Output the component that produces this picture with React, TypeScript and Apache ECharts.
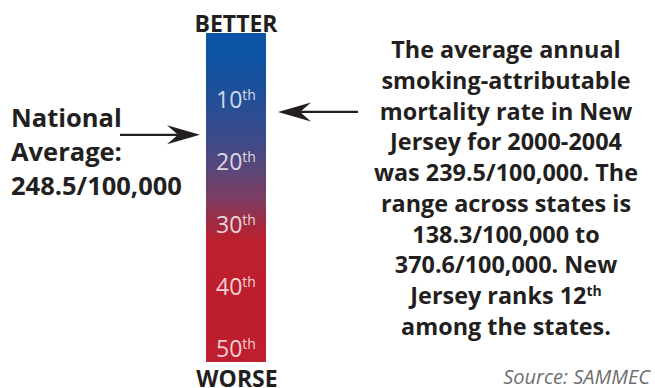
import React, { useEffect, useRef } from "react";
import * as echarts from "echarts";

// ---- data ----
const rankTicks = [10, 20, 30, 40, 50];
const rankBarExtent = [-0.72, 52.33]; // ranking bar span in rank units (top → bottom)
const njRank = 12;
const nationalAvgRank = 15.7; // where the national-average arrow points
const nationalAvg = "248.5/100,000";
const njRate = "239.5/100,000";
const rangeMin = "138.3/100,000";
const rangeMax = "370.6/100,000";
const endLabels = ["BETTER", "WORSE"];
const sourceText = "Source: SAMMEC";

const nationalLines = ["National", "Average:", nationalAvg];
const njLines = [
  "The average annual",
  "smoking-attributable",
  "mortality rate in New",
  "Jersey for 2000-2004",
  `was ${njRate}. The`,
  "range across states is",
  `${rangeMin} to`,
  `${rangeMax}. New`,
  `Jersey ranks ${njRank}{s|th}`,
  "among the states.",
];
// arrows: [side (0 = left of bar, 1 = right of bar), rank]
const arrows = [
  [0, nationalAvgRank],
  [1, njRank],
];

const INK = "#231f20";
const FONT = "'Open Sans', 'Noto Sans', sans-serif";

export default function App() {
  const ref = useRef<HTMLDivElement>(null);
  useEffect(() => {
    if (!ref.current) return;
    const chart = echarts.init(ref.current, null, { renderer: "svg" });
    const gradient = new echarts.graphic.LinearGradient(0, 0, 0, 1, [
      { offset: 0, color: "#0a54a6" },
      { offset: 0.08, color: "#0d53a3" },
      { offset: 0.2, color: "#224f98" },
      { offset: 0.32, color: "#3d4a8a" },
      { offset: 0.415, color: "#5a4679" },
      { offset: 0.506, color: "#7f3d62" },
      { offset: 0.58, color: "#a22b41" },
      { offset: 0.63, color: "#bc1f2d" },
      { offset: 1, color: "#be1e2d" },
    ]);
    chart.setOption({
      animation: false,
      backgroundColor: "#ffffff",
      grid: { left: 206, width: 60, top: 33, height: 329 },
      xAxis: { type: "value", min: 0, max: 1, show: false },
      yAxis: {
        type: "value",
        min: rankBarExtent[0],
        max: rankBarExtent[1],
        inverse: true,
        show: false,
      },
      series: [
        {
          type: "custom",
          clip: false,
          data: [[0, rankBarExtent[0], 1, rankBarExtent[1]]],
          renderItem: (_p: any, api: any) => {
            const p0 = api.coord([api.value(0), api.value(1)]);
            const p1 = api.coord([api.value(2), api.value(3)]);
            return {
              type: "rect",
              shape: { x: p0[0], y: p0[1], width: p1[0] - p0[0], height: p1[1] - p0[1] },
              style: { fill: gradient },
            };
          },
        },
        {
          type: "scatter",
          symbolSize: 0,
          data: rankTicks.map((r) => [0.5, r]),
          label: {
            show: true,
            position: "inside",
            formatter: (p: any) => `{n|${p.value[1]}}{s|th}`,
            rich: {
              n: { fontSize: 23, color: "#ffffff", fontFamily: FONT, lineHeight: 23 },
              s: { fontSize: 14, color: "#ffffff", fontFamily: FONT, lineHeight: 21, verticalAlign: "top" },
            },
          },
        },
        {
          type: "custom",
          clip: false,
          data: arrows,
          renderItem: (_p: any, api: any) => {
            const side = api.value(0);
            const p = api.coord([side, api.value(1)]);
            const y = p[1];
            const dir = side === 0 ? 1 : -1;
            const tipX = p[0] + (side === 0 ? -6 : 12);
            const tailX = tipX - dir * 80;
            return {
              type: "group",
              children: [
                {
                  type: "line",
                  shape: { x1: tailX, y1: y, x2: tipX - dir * 22, y2: y },
                  style: { stroke: INK, lineWidth: 2.2 },
                },
                {
                  type: "polygon",
                  shape: {
                    points: [
                      [tipX, y],
                      [tipX - dir * 33, y - 9.5],
                      [tipX - dir * 22, y],
                      [tipX - dir * 33, y + 9.5],
                    ],
                  },
                  style: { fill: INK },
                },
              ],
            };
          },
        },
      ],
      graphic: [
        {
          type: "text",
          x: 236,
          y: 23,
          style: {
            text: endLabels[0],
            fill: INK,
            fontSize: 23,
            fontWeight: "bold",
            fontFamily: FONT,
            align: "center",
            verticalAlign: "middle",
          },
        },
        {
          type: "text",
          x: 237,
          y: 377.5,
          style: {
            text: endLabels[1],
            fill: INK,
            fontSize: 23,
            lineHeight: 20,
            fontWeight: "bold",
            fontFamily: FONT,
            align: "center",
            verticalAlign: "middle",
          },
        },
        {
          type: "text",
          x: 11,
          y: 151,
          style: {
            text: nationalLines.join("\n"),
            fill: INK,
            fontSize: 25.5,
            fontWeight: "bold",
            fontFamily: FONT,
            lineHeight: 34.2,
            align: "left",
            verticalAlign: "middle",
          },
        },
        {
          type: "text",
          x: 506,
          y: 187.5,
          style: {
            text: njLines.join("\n"),
            fill: INK,
            fontSize: 23.4,
            fontWeight: "bold",
            fontFamily: FONT,
            lineHeight: 30.7,
            align: "center",
            verticalAlign: "middle",
            rich: {
              s: {
                fontSize: 14,
                fontWeight: "bold",
                fontFamily: FONT,
                fill: INK,
                lineHeight: 23.5,
                padding: [4, 0, 0, 0],
                verticalAlign: "top",
              },
            },
          },
        },
        {
          type: "text",
          x: 650,
          y: 376,
          style: {
            text: sourceText,
            fill: "#6d6e71",
            fontSize: 20,
            fontStyle: "italic",
            fontFamily: FONT,
            align: "right",
            verticalAlign: "middle",
          },
        },
      ],
    });
    return () => chart.dispose();
  }, []);
  return (
    <div
      ref={ref}
      style={{ position: "absolute", left: 0, top: 0, width: 655, height: 388, background: "#fff" }}
    />
  );
}
